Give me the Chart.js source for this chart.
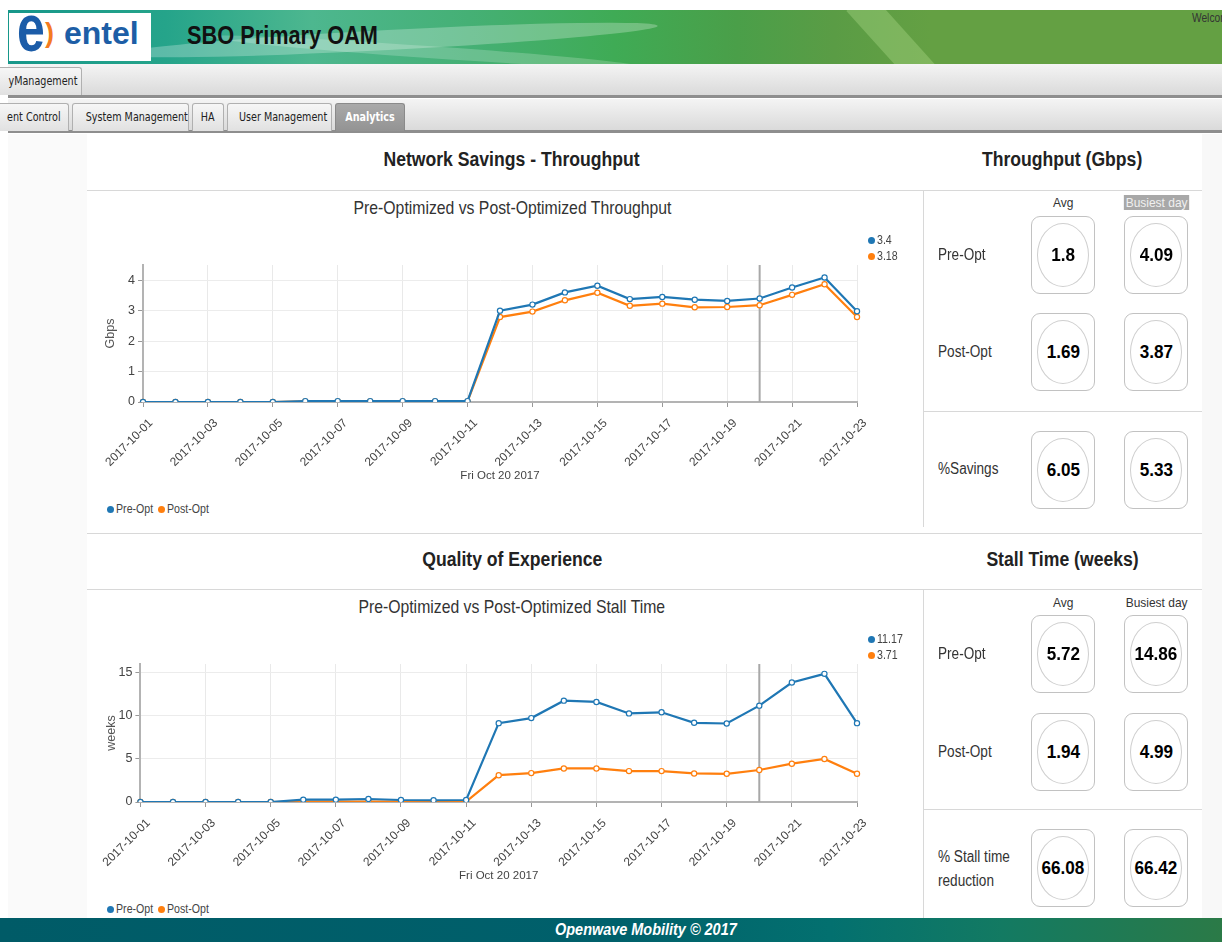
<!DOCTYPE html>
<html>
<head>
<meta charset="utf-8">
<title>SBO Primary OAM - Analytics</title>
<script src="https://cdn.jsdelivr.net/npm/chart.js@4.4.0/dist/chart.umd.min.js"></script>
<style>
  body { margin:0; width:1222px; height:942px; overflow:hidden; position:relative;
         background:#fff; font-family:"Liberation Sans",Arial,sans-serif; color:#333; }
  .a { position:absolute; }
  .n { display:inline-block; transform:scaleX(0.85); transform-origin:50% 50%; white-space:nowrap; }
  .nl { display:inline-block; transform:scaleX(0.85); transform-origin:0 50%; white-space:nowrap; }
  #banner { left:8px; top:10px; width:1214px; height:54px;
            background:linear-gradient(90deg,#17978a 0%,#25a48a 13%,#4db78f 25%,#45b075 38%,#3fab55 50%,#4a9f49 60%,#5a9c45 68%,#64a043 76%,#64a043 100%); overflow:hidden; }
  .streak { position:absolute; background:rgba(255,255,255,0.26); border-radius:50%; }
  #logo { left:9px; top:13px; width:142px; height:48px; background:#fff; overflow:hidden; }
  .bar { left:8px; width:1214px; height:31px; background:linear-gradient(#f4f4f4,#dadada); border-bottom:3px solid #8e8e8e; }
  .tab { position:absolute; height:28px; line-height:27px; font-family:"DejaVu Sans",Verdana,sans-serif; font-size:12px; color:#222;
         background:linear-gradient(#f6f6f6,#e1e1e1); border:1px solid #b0b0b0; border-bottom:none; border-radius:3px 3px 0 0;
         box-sizing:border-box; text-align:center; white-space:nowrap; overflow:hidden; }
  .tab span { display:inline-block; transform:scaleX(0.8); transform-origin:50% 50%; }
  .tab.on { background:linear-gradient(#a9a9a9,#939393); color:#fff; font-weight:bold; border-color:#8a8a8a; }
  #leftStrip { left:8px; top:134px; width:79px; height:784px; background:#fafafa; }
  #rightStrip { left:1202px; top:134px; width:20px; height:784px; background:#f8f8f8; }
  .hl { position:absolute; height:1px; background:#d8d8d8; }
  .vl { position:absolute; width:1px; background:#d8d8d8; }
  .sect { position:absolute; font-weight:bold; font-size:20px; color:#222; text-align:center; }
  .sect span { transform:scaleX(0.88); }
  .ctitle { position:absolute; font-size:19px; color:#333; text-align:center; }
  .ctitle span { transform:scaleX(0.83); }
  .lbl { position:absolute; font-size:16px; color:#333; line-height:24px; }
  .hdr { position:absolute; font-size:13px; color:#333; text-align:center; width:80px; }
  .hdr span { transform:scaleX(0.92); }
  .card { position:absolute; width:64px; height:78px; border:1px solid #c2c2c2; border-radius:9px; box-sizing:border-box; }
  .card div { position:absolute; left:5px; top:6px; width:52px; height:64px; border:1px solid #cfcfcf; border-radius:50%;
              box-sizing:border-box; text-align:center; line-height:62px; font-weight:bold; font-size:19px; color:#000; }
  .card span { transform:scaleX(0.9); }
  .cw { position:absolute; left:88px; width:834px; height:262px; }
  .leg { position:absolute; font-size:12.5px; color:#444; height:16px; line-height:16px; }
  .dot { position:absolute; width:7px; height:7px; border-radius:50%; top:5px; }
  .leg .nl { position:absolute; left:9px; top:0; }
  #footer { left:0; top:918px; width:1222px; height:24px;
            background:linear-gradient(90deg,#005b67 0%,#00606b 50%,#03706f 68%,#137a62 82%,#2b7a47 100%); }
</style>
</head>
<body>
<div id="banner" class="a">
  <div class="streak" style="left:110px;top:20px;width:540px;height:20px;transform:rotate(-3deg);"></div>
  <div class="streak" style="left:200px;top:36px;width:440px;height:12px;transform:rotate(4deg);background:rgba(255,255,255,0.2)"></div>
  <div class="streak" style="left:868px;top:-22px;width:30px;height:100px;transform:rotate(-42deg);border-radius:0;background:rgba(200,240,160,0.28)"></div>
</div>
<div id="logo" class="a">
  <span class="a" style="left:8px;top:-19px;font:bold 50px/50px 'Liberation Sans',Arial;color:#1b5ca8;transform:scaleY(1.35);transform-origin:0 0;">e</span>
  <span class="a" style="left:36px;top:7px;font:bold 27px/27px 'Liberation Sans',Arial;color:#f47b20;">)</span>
  <span class="a" style="left:55px;top:4px;font:bold 32px/32px 'Liberation Sans',Arial;color:#1d5ea6;">entel</span>
</div>
<div class="a" style="left:187px;top:21px;font-weight:bold;font-size:25px;color:#111;"><span class="nl" style="transform:scaleX(0.87)">SBO Primary OAM</span></div>
<div class="a" style="left:1192px;top:11px;font-size:12px;color:#333;"><span class="nl">Welcome</span></div>

<div class="a bar" style="top:64px;"></div>
<div class="tab" style="left:-8px;top:67px;width:90px;"><span>&nbsp;&nbsp;yManagement</span></div>
<div class="a bar" style="top:99px;"></div>
<div class="tab" style="left:-5px;top:103px;width:74px;"><span>&nbsp;ent Control</span></div>
<div class="tab" style="left:72px;top:103px;width:117px;"><span>System Management</span></div>
<div class="tab" style="left:192px;top:103px;width:32px;"><span>HA</span></div>
<div class="tab" style="left:227px;top:103px;width:105px;"><span>User Management</span></div>
<div class="tab on" style="left:335px;top:103px;width:70px;"><span>Analytics</span></div>

<div id="leftStrip" class="a"></div>
<div id="rightStrip" class="a"></div>

<!-- section 1 -->
<div class="sect" style="left:312px;top:148px;width:400px;"><span class="n">Network Savings - Throughput</span></div>
<div class="sect" style="left:923px;top:148px;width:279px;"><span class="n">Throughput (Gbps)</span></div>
<div class="hl" style="left:87px;top:190px;width:1115px;"></div>
<div class="vl" style="left:923px;top:190px;height:337px;"></div>
<div class="hl" style="left:923px;top:411px;width:279px;"></div>
<div class="ctitle" style="left:262px;top:197px;width:500px;"><span class="n">Pre-Optimized vs Post-Optimized Throughput</span></div>
<div class="cw" style="top:222px;"><canvas id="thrChart"></canvas></div>
<div class="leg" id="thrHover1" style="left:868px;top:232px;"></div>
<div class="leg" id="thrHover2" style="left:868px;top:248px;"></div>
<div class="leg" style="left:107px;top:501px;"><span class="dot" style="background:#1f77b4"></span><span class="nl">Pre-Opt</span></div>
<div class="leg" style="left:158px;top:501px;"><span class="dot" style="background:#ff7f0e"></span><span class="nl">Post-Opt</span></div>

<div class="hdr" style="left:1023px;top:195px;"><span class="n">Avg</span></div>
<div class="hdr" style="left:1117px;top:195px;"><span class="n" style="background:#a8a8a8;color:#f0f0f0;padding:0 2px;">Busiest day</span></div>
<div class="lbl" style="left:938px;top:243px;"><span class="nl">Pre-Opt</span></div>
<div class="card" style="left:1031px;top:216px;"><div><span class="n">1.8</span></div></div>
<div class="card" style="left:1124px;top:216px;"><div><span class="n">4.09</span></div></div>
<div class="lbl" style="left:938px;top:340px;"><span class="nl">Post-Opt</span></div>
<div class="card" style="left:1031px;top:313px;"><div><span class="n">1.69</span></div></div>
<div class="card" style="left:1124px;top:313px;"><div><span class="n">3.87</span></div></div>
<div class="lbl" style="left:938px;top:457px;"><span class="nl">%Savings</span></div>
<div class="card" style="left:1031px;top:431px;"><div><span class="n">6.05</span></div></div>
<div class="card" style="left:1124px;top:431px;"><div><span class="n">5.33</span></div></div>

<!-- section 2 -->
<div class="hl" style="left:87px;top:533px;width:1115px;"></div>
<div class="sect" style="left:312px;top:548px;width:400px;"><span class="n">Quality of Experience</span></div>
<div class="sect" style="left:923px;top:548px;width:279px;"><span class="n">Stall Time (weeks)</span></div>
<div class="hl" style="left:87px;top:589px;width:1115px;"></div>
<div class="vl" style="left:923px;top:589px;height:329px;"></div>
<div class="hl" style="left:923px;top:809px;width:279px;"></div>
<div class="ctitle" style="left:262px;top:596px;width:500px;"><span class="n">Pre-Optimized vs Post-Optimized Stall Time</span></div>
<div class="cw" style="top:622px;"><canvas id="stallChart"></canvas></div>
<div class="leg" id="stallHover1" style="left:868px;top:631px;"></div>
<div class="leg" id="stallHover2" style="left:868px;top:647px;"></div>
<div class="leg" style="left:107px;top:901px;"><span class="dot" style="background:#1f77b4"></span><span class="nl">Pre-Opt</span></div>
<div class="leg" style="left:158px;top:901px;"><span class="dot" style="background:#ff7f0e"></span><span class="nl">Post-Opt</span></div>

<div class="hdr" style="left:1023px;top:595px;"><span class="n">Avg</span></div>
<div class="hdr" style="left:1117px;top:595px;"><span class="n">Busiest day</span></div>
<div class="lbl" style="left:938px;top:642px;"><span class="nl">Pre-Opt</span></div>
<div class="card" style="left:1031px;top:615px;"><div><span class="n">5.72</span></div></div>
<div class="card" style="left:1124px;top:615px;"><div><span class="n">14.86</span></div></div>
<div class="lbl" style="left:938px;top:740px;"><span class="nl">Post-Opt</span></div>
<div class="card" style="left:1031px;top:713px;"><div><span class="n">1.94</span></div></div>
<div class="card" style="left:1124px;top:713px;"><div><span class="n">4.99</span></div></div>
<div class="lbl" style="left:938px;top:845px;"><span class="nl">% Stall time</span><br><span class="nl">reduction</span></div>
<div class="card" style="left:1031px;top:829px;"><div><span class="n">66.08</span></div></div>
<div class="card" style="left:1124px;top:829px;"><div><span class="n">66.42</span></div></div>

<div id="footer" class="a"></div>
<div class="a" style="left:0;top:920px;width:1292px;text-align:center;font-weight:bold;font-style:italic;font-size:17px;color:#fff;"><span class="n">Openwave Mobility © 2017</span></div>

<script>
// days shown on the x axis
const dates = ['2017-10-01','2017-10-02','2017-10-03','2017-10-04','2017-10-05','2017-10-06','2017-10-07','2017-10-08',
  '2017-10-09','2017-10-10','2017-10-11','2017-10-12','2017-10-13','2017-10-14','2017-10-15','2017-10-16',
  '2017-10-17','2017-10-18','2017-10-19','2017-10-20','2017-10-21','2017-10-22','2017-10-23'];

// throughput, Gbps
const thrPre  = [0, 0, 0, 0, 0, 0.03, 0.03, 0.03, 0.03, 0.03, 0.03, 3.0, 3.2, 3.6, 3.82, 3.38, 3.45, 3.36, 3.32, 3.4, 3.76, 4.09, 2.98];
const thrPost = [0, 0, 0, 0, 0, 0.02, 0.02, 0.02, 0.02, 0.02, 0.02, 2.79, 2.97, 3.34, 3.59, 3.16, 3.23, 3.11, 3.12, 3.18, 3.52, 3.87, 2.79];

// stall time, weeks
const stallPre  = [0, 0, 0, 0, 0, 0.27, 0.27, 0.35, 0.23, 0.2, 0.23, 9.14, 9.73, 11.75, 11.6, 10.27, 10.4, 9.18, 9.1, 11.17, 13.85, 14.86, 9.14];
const stallPost = [0, 0, 0, 0, 0, 0.05, 0.05, 0.05, 0.04, 0.04, 0.05, 3.11, 3.35, 3.89, 3.89, 3.58, 3.58, 3.31, 3.27, 3.71, 4.44, 4.99, 3.27];

const hoverIdx = 19;          // Fri Oct 20 2017
const preColor = '#1f77b4';
const postColor = '#ff7f0e';

// guide line at the hovered day
const guide = {
  id: 'guide',
  beforeDatasetsDraw(chart) {
    const x = chart.scales.x.getPixelForValue(hoverIdx);
    const {top, bottom} = chart.chartArea;
    const ctx = chart.ctx;
    ctx.save();
    ctx.strokeStyle = '#a8a8a8';
    ctx.lineWidth = 2;
    ctx.beginPath();
    ctx.moveTo(x, top);
    ctx.lineTo(x, bottom);
    ctx.stroke();
    ctx.restore();
  }
};

function series(label, data, color) {
  return {
    label: label, data: data, borderColor: color, backgroundColor: color,
    borderWidth: 2.2, tension: 0,
    pointRadius: 2.6, pointBorderWidth: 1.2, pointBackgroundColor: '#fff', pointBorderColor: color
  };
}

function makeChart(id, pre, post, yTitle, yMax, yStep, yWidth, padTop) {
  return new Chart(document.getElementById(id), {
    type: 'line',
    data: {
      labels: dates,
      datasets: [series('Pre-Opt', pre, preColor), series('Post-Opt', post, postColor)]
    },
    plugins: [guide],
    options: {
      responsive: true,
      maintainAspectRatio: false,
      animation: false,
      layout: { padding: { top: padTop, right: 65, left: 0, bottom: 0 } },
      plugins: { legend: { display: false }, tooltip: { enabled: false } },
      scales: {
        x: {
          afterFit: s => { s.height = 82; },
          border: { color: '#b3b3b3', width: 2 },
          grid: {
            color: c => (c.index % 2 === 0 ? '#e9e9e9' : 'rgba(0,0,0,0)'),
            tickColor: c => (c.index % 2 === 0 ? '#999' : 'rgba(0,0,0,0)'),
            tickLength: 5
          },
          ticks: {
            autoSkip: false, maxRotation: 45, minRotation: 45, padding: 9, labelOffset: 8,
            color: '#444', font: { size: 12, family: 'Liberation Sans, Arial' },
            callback: (v, i) => (i % 2 === 0 ? dates[i] : '')
          },
          title: { display: true, text: 'Fri Oct 20 2017', color: '#444',
                   font: { size: 11.5, family: 'Liberation Sans, Arial' }, padding: { top: 0, bottom: 1 } }
        },
        y: {
          min: 0, max: yMax,
          afterFit: s => { s.width = yWidth; },
          border: { color: '#b3b3b3', width: 2 },
          grid: { color: '#ececec', tickColor: '#999', tickLength: 5 },
          ticks: { stepSize: yStep, includeBounds: false, padding: 3, color: '#444',
                   font: { size: 12.5, family: 'Liberation Sans, Arial' } },
          title: { display: true, text: yTitle, color: '#555',
                   font: { size: 12.5, family: 'Liberation Sans, Arial' }, padding: { top: 15, bottom: 0 } }
        }
      }
    }
  });
}

makeChart('thrChart', thrPre, thrPost, 'Gbps', 4.5, 1, 55, 43);
makeChart('stallChart', stallPre, stallPost, 'weeks', 16, 5, 51, 42);

// values at the hovered day, top right of each chart
function hoverItem(id, value, color) {
  document.getElementById(id).innerHTML =
    '<span class="dot" style="background:' + color + '"></span><span class="nl">' + value + '</span>';
}
hoverItem('thrHover1', thrPre[hoverIdx], preColor);
hoverItem('thrHover2', thrPost[hoverIdx], postColor);
hoverItem('stallHover1', stallPre[hoverIdx], preColor);
hoverItem('stallHover2', stallPost[hoverIdx], postColor);
</script>
</body>
</html>
